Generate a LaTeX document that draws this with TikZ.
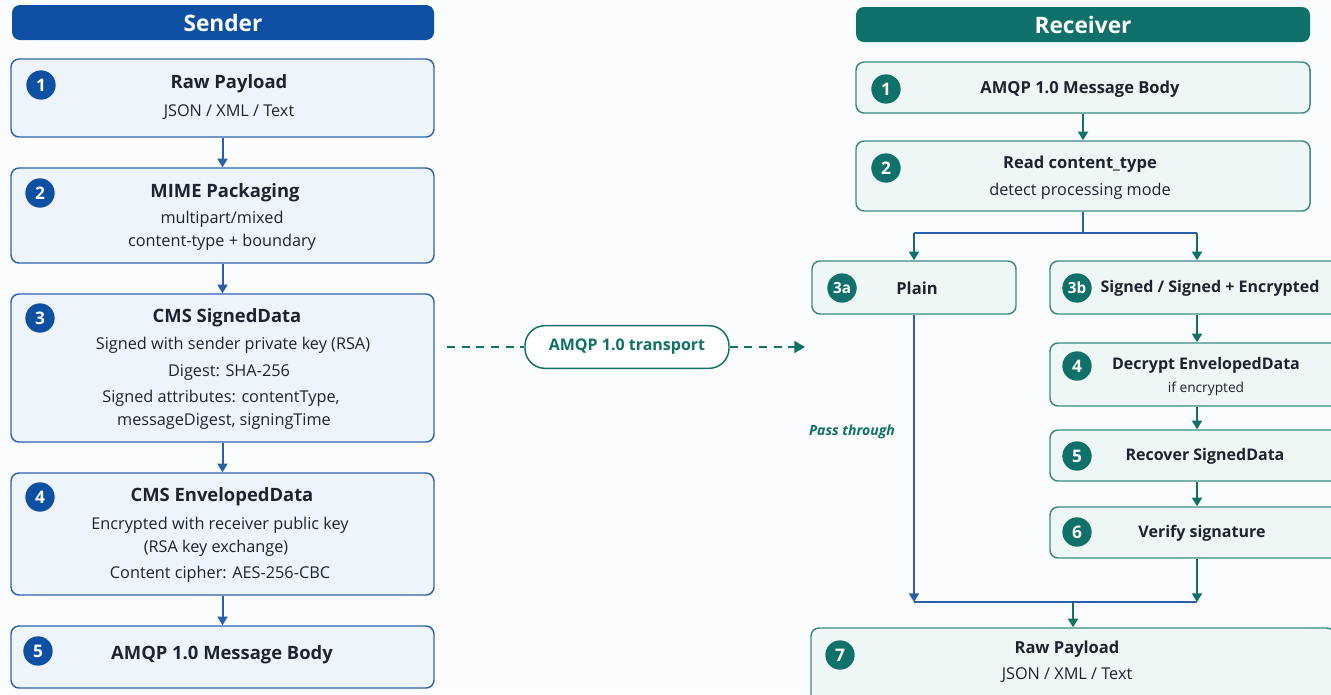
\documentclass[tikz,border=0pt]{standalone}
\usepackage{fontspec}
\setmainfont{Open Sans}
\usetikzlibrary{arrows.meta,fit}
\definecolor{sblue}{HTML}{0C4FA3}
\definecolor{sborder}{HTML}{2F63AE}
\definecolor{sfill}{HTML}{EEF4FB}
\definecolor{steal}{HTML}{0F7169}
\definecolor{tborder}{HTML}{3A8B84}
\definecolor{tfill}{HTML}{EEF6F6}
\definecolor{txt}{HTML}{1B2430}
\definecolor{lblue}{HTML}{2A5FAE}
\definecolor{bg}{HTML}{FBFCFD}
\tikzset{
  sbox/.style={draw=sborder, fill=sfill, line width=1.1pt, rounded corners=6pt, inner sep=0pt},
  tbox/.style={draw=tborder, fill=tfill, line width=1.1pt, rounded corners=6pt, inner sep=0pt},
  shead/.style={fill=sblue, rounded corners=6pt, inner sep=0pt},
  thead/.style={fill=steal, rounded corners=6pt, inner sep=0pt},
  headtxt/.style={text=white, font=\fontsize{17}{18}\selectfont\bfseries},
  ttl/.style={text=txt, font=\fontsize{13.8}{15}\selectfont\bfseries, inner sep=0pt},
  rttl/.style={text=txt, font=\fontsize{12.4}{14}\selectfont\bfseries, inner sep=0pt},
  rttls/.style={text=txt, font=\fontsize{12}{14}\selectfont\bfseries, inner sep=0pt},
  sub/.style={text=txt, font=\fontsize{12.2}{13}\selectfont, inner sep=0pt},
  smallsub/.style={text=txt, font=\fontsize{10.3}{11}\selectfont, inner sep=0pt},
  sbadge/.style={circle, fill=sblue, text=white, minimum size=22pt, inner sep=0pt, font=\fontsize{13}{13}\selectfont\bfseries},
  tbadge/.style={circle, fill=steal, text=white, minimum size=22pt, inner sep=0pt, font=\fontsize{13}{13}\selectfont\bfseries},
  tbadgesm/.style={tbadge, font=\fontsize{11.5}{11.5}\selectfont\bfseries},
  sarrow/.style={draw=lblue, line width=1.5pt, -{Triangle[width=7.5pt,length=6.5pt]}},
  tarrow/.style={draw=steal, line width=1.5pt, -{Triangle[width=7.5pt,length=6.5pt]}},
  bline/.style={draw=lblue, line width=1.5pt},
  barrowt/.style={draw=lblue, line width=1.5pt, -{Triangle[width=7.5pt,length=6.5pt]}},
  transp/.style={draw=steal, line width=1.3pt, dash pattern=on 6pt off 5pt},
  pill/.style={draw=steal, fill=white, line width=1.1pt, rounded corners=15pt, minimum width=153pt, minimum height=32pt, text=steal, font=\fontsize{12}{14}\selectfont\bfseries},
  passlbl/.style={text=steal, font=\fontsize{10.5}{12}\selectfont\bfseries\itshape, inner sep=0pt}
}
\begin{document}
\begin{tikzpicture}[x=0.75pt,y=-0.75pt]
\useasboundingbox (0,0) rectangle (1331,694);
\fill[bg] (0,0) rectangle (1331,694);
\clip (0,0) rectangle (1331,694);

% ---------------- Sender ----------------
\node[shead, fit={(12,5) (434,40)}] (sh) {};
\node[headtxt] at (sh.center) {Sender};

\node[sbox, fit={(11,59) (434,137)}] (s1) {};
\node[sbadge] (sb1) at (41,85) {1};
\node[ttl] (s1t) at (229,84) {Raw Payload};
\node[sub] (s1a) at (229,112) {JSON / XML / Text};

\node[sbox, fit={(11,168) (434,263)}] (s2) {};
\node[sbadge] (sb2) at (40,193) {2};
\node[ttl] (s2t) at (225,193) {MIME Packaging};
\node[sub] (s2a) at (222,219) {multipart/mixed};
\node[sub] (s2b) at (222,242) {content-type + boundary};

\node[sbox, fit={(11,294) (434,442)}] (s3) {};
\node[sbadge] (sb3) at (40,318) {3};
\node[ttl] (s3t) at (227,318) {CMS SignedData};
\node[sub] (s3a) at (233,345) {Signed with sender private key (RSA)};
\node[sub] (s3b) at (229,372) {Digest: SHA-256};
\node[sub] (s3c) at (221,398) {Signed attributes: contentType,};
\node[sub] (s3d) at (224,421) {messageDigest, signingTime};

\node[sbox, fit={(11,473) (434,595)}] (s4) {};
\node[sbadge] (sb4) at (40,497) {4};
\node[ttl] (s4t) at (222,497) {CMS EnvelopedData};
\node[sub] (s4a) at (220,525) {Encrypted with receiver public key};
\node[sub] (s4b) at (216,548) {(RSA key exchange)};
\node[sub] (s4c) at (220,574) {Content cipher: AES-256-CBC};

\node[sbox, fit={(11,626) (434,688)}] (s5) {};
\node[sbadge] (sb5) at (38,651) {5};
\node[ttl] (s5t) at (222,655) {AMQP 1.0 Message Body};

\draw[sarrow] (s1) -- (s2);
\draw[sarrow] (s2) -- (s3);
\draw[sarrow] (s3) -- (s4);
\draw[sarrow] (s4) -- (s5);

% ---------------- Transport ----------------
\node[pill] (tr) at (627,347) {AMQP 1.0 transport};
\coordinate (tsrc) at (447,347);
\coordinate (tdst) at (805,347);
\draw[transp] (tsrc) -- (tr.west);
\draw[transp, -{Triangle[width=9pt,length=8pt]}] (tr.east) -- (tdst);

% ---------------- Receiver ----------------
\node[thead, fit={(856,7) (1310,42)}] (rh) {};
\node[headtxt] at (rh.center) {Receiver};

\node[tbox, fit={(856,62) (1310,113)}] (r1) {};
\node[tbadge] (rb1) at (886,89) {1};
\node[rttl] (r1t) at (1080,89) {AMQP 1.0 Message Body};

\node[tbox, fit={(856,141) (1310,211)}] (r2) {};
\node[tbadge] (rb2) at (886,168) {2};
\node[rttl] (r2t) at (1080,164) {Read content\_type};
\node[sub] (r2a) at (1080,191) {detect processing mode};

\node[tbox, fit={(812,261) (1016,314)}] (r3a) {};
\node[tbadgesm] (rb3a) at (842,288) {3a};
\node[rttl] (r3at) at (917,288) {Plain};

\node[tbox, fit={(1050,261) (1344,314)}] (r3b) {};
\node[tbadgesm] (rb3b) at (1077,288) {3b};
\node[rttls] (r3bt) at (1210,288) {Signed / Signed + Encrypted};

\node[tbox, fit={(1050,343) (1344,406)}] (r4) {};
\node[tbadge] (rb4) at (1077,366) {4};
\node[rttls] (r4t) at (1206,365) {Decrypt EnvelopedData};
\node[smallsub] (r4a) at (1206,389) {if encrypted};

\node[tbox, fit={(1050,430) (1344,481)}] (r5) {};
\node[tbadge] (rb5) at (1077,456) {5};
\node[rttls] (r5t) at (1205,456) {Recover SignedData};

\node[tbox, fit={(1050,507) (1344,558)}] (r6) {};
\node[tbadge] (rb6) at (1077,532) {6};
\node[rttls] (r6t) at (1202,533) {Verify signature};

\node[tbox, fit={(811,628) (1335,710)}] (r7) {};
\node[tbadge] (rb7) at (840,655) {7};
\node[rttl] (r7t) at (1067,649) {Raw Payload};
\node[sub] (r7a) at (1067,675) {JSON / XML / Text};

\draw[tarrow] (r1) -- (r2);
\coordinate (split) at (1083,233);
\draw[bline] (r2.south) -- (split);
\draw[bline] (r3a.north |- split) -- (r3b.north |- split);
\draw[tarrow] (r3a.north |- split) -- (r3a.north);
\draw[tarrow] (r3b.north |- split) -- (r3b.north);
\draw[tarrow] (r3b) -- (r4);
\draw[tarrow] (r4) -- (r5);
\draw[tarrow] (r5) -- (r6);

\coordinate (merge) at (1073,602);
\draw[bline] (r3a.south |- merge) -- (r6.south |- merge);
\draw[barrowt] (r3a.south) -- (r3a.south |- merge);
\draw[tarrow] (r6.south) -- (r6.south |- merge);
\draw[tarrow] (merge) -- (r7.north -| merge);
\node[passlbl] (pt) at (852,432) {Pass through};
\end{tikzpicture}
\end{document}
